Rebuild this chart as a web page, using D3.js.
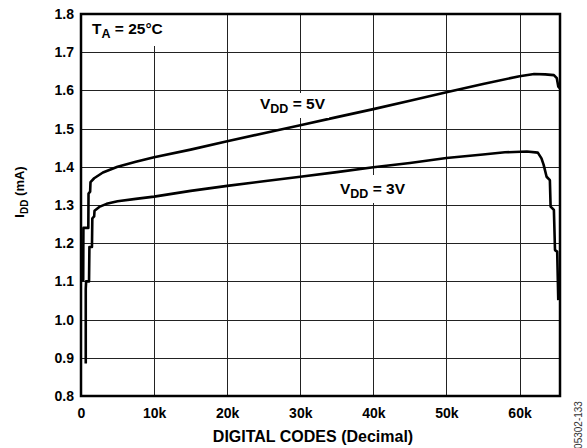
<!DOCTYPE html>
<html lang="en">
<head>
  <meta charset="UTF-8">
  <title>IDD vs Digital Codes</title>
  <script src="https://d3js.org/d3.v7.min.js"></script>
  <style>
    body { margin: 0; padding: 0; background: #fff; }
    svg { display: block; }
    text { font-family: 'Liberation Sans', Arial, sans-serif; fill: #000; }
    .tick text { font-size: 14px; font-weight: bold; }
    .grid line { stroke: #222; stroke-width: 1; shape-rendering: crispEdges; }
    .curve { fill: none; stroke: #000; stroke-width: 2.6; stroke-linejoin: round; }
  </style>
</head>
<body>
<svg id="chart" width="587" height="448"></svg>
<script>
  // axis ticks
  var xTicks = [0, 10000, 20000, 30000, 40000, 50000, 60000];
  var xTickLabels = ['0', '10k', '20k', '30k', '40k', '50k', '60k'];
  var yTicks = [0.8, 0.9, 1.0, 1.1, 1.2, 1.3, 1.4, 1.5, 1.6, 1.7, 1.8];

  // VDD = 5V  (code, mA)
  var codes5V = [300, 330, 1000, 1030, 1250, 1300, 1800, 3000, 5000, 7500, 10000, 15000, 20000,
    25000, 30000, 35000, 40000, 45000, 50000, 55000, 60000, 62000, 63500, 64700, 65100, 65300, 65535];
  var idd5V = [1.10, 1.24, 1.24, 1.33, 1.335, 1.36, 1.37, 1.385, 1.40, 1.413, 1.425, 1.445, 1.467,
    1.488, 1.509, 1.530, 1.551, 1.573, 1.595, 1.617, 1.637, 1.643, 1.642, 1.640, 1.632, 1.610, 1.605];

  // VDD = 3V  (code, mA)
  var codes3V = [650, 650, 700, 1100, 1150, 1500, 1550, 1800, 1850, 2500, 3500, 5000, 7500, 10000,
    15000, 20000, 25000, 30000, 35000, 40000, 45000, 50000, 55000, 58000, 61000, 62500, 63000,
    63300, 63700, 64150, 64250, 64700, 64850, 65150, 65300];
  var idd3V = [0.885, 1.08, 1.10, 1.10, 1.19, 1.19, 1.265, 1.27, 1.285, 1.295, 1.303, 1.31, 1.316, 1.322,
    1.337, 1.35, 1.362, 1.374, 1.386, 1.399, 1.41, 1.423, 1.432, 1.438, 1.44, 1.437, 1.422,
    1.405, 1.374, 1.365, 1.296, 1.287, 1.182, 1.178, 1.051];

  var margin = {top: 14, right: 27, bottom: 52, left: 81};
  var width = 587 - margin.left - margin.right;
  var height = 448 - margin.top - margin.bottom;

  var svg = d3.select('#chart');
  var g = svg.append('g')
    .attr('transform', 'translate(' + [margin.left, margin.top] + ')');

  var x = d3.scaleLinear().domain([0, 65535]).range([0, width]);
  var y = d3.scaleLinear().domain([0.8, 1.8]).range([height, 0]);

  // grid + tick labels
  var yAxis = d3.axisLeft(y)
    .tickValues(yTicks)
    .tickFormat(d3.format('.1f'))
    .tickSize(-width)
    .tickPadding(7);
  g.append('g').attr('class', 'grid').call(yAxis)
    .call(function(a) { a.select('.domain').remove(); });

  var xAxis = d3.axisBottom(x)
    .tickValues(xTicks)
    .tickFormat(function(d, i) { return xTickLabels[i]; })
    .tickSize(-height)
    .tickPadding(12);
  g.append('g').attr('class', 'grid')
    .attr('transform', 'translate(0,' + height + ')')
    .call(xAxis)
    .call(function(a) { a.select('.domain').remove(); });

  var line = d3.line()
    .x(function(d) { return x(d[0]); })
    .y(function(d) { return y(d[1]); });

  g.append('path').attr('class', 'curve')
    .attr('d', line(d3.zip(codes5V, idd5V)));
  g.append('path').attr('class', 'curve')
    .attr('d', line(d3.zip(codes3V, idd3V)));

  // white boxes behind the in-plot labels
  function label(bx, by, bw, bh, tx, ty, main, sub, rest, size) {
    g.append('rect')
      .attr('x', bx).attr('y', by).attr('width', bw).attr('height', bh)
      .attr('fill', '#fff');
    var t = g.append('text')
      .attr('x', tx).attr('y', ty)
      .style('font-size', size + 'px').style('font-weight', 'bold');
    t.append('tspan').text(main);
    t.append('tspan').attr('dy', 4).style('font-size', (size - 3) + 'px').text(sub);
    t.append('tspan').attr('dy', -4).text(rest);
  }
  label(1, 1, 92, 31, 11, 20, 'T', 'A', ' = 25°C', 15.5);
  label(176, 79, 72, 25, 179, 95, 'V', 'DD', ' = 5V', 15.5);
  label(255, 161, 78, 28, 259, 180, 'V', 'DD', ' = 3V', 15.5);

  // frame
  g.append('rect')
    .attr('width', width).attr('height', height)
    .attr('fill', 'none').attr('stroke', '#000').attr('stroke-width', 2.5);

  // axis titles
  svg.append('text')
    .attr('x', 313).attr('y', 442)
    .attr('text-anchor', 'middle')
    .style('font-size', '16px').style('font-weight', 'bold')
    .text('DIGITAL CODES (Decimal)');

  var yt = svg.append('text')
    .attr('transform', 'translate(24,192)rotate(-90)')
    .attr('text-anchor', 'middle')
    .style('font-size', '13px').style('font-weight', 'bold');
  yt.append('tspan').text('I');
  yt.append('tspan').attr('dy', 4).style('font-size', '10px').text('DD');
  yt.append('tspan').attr('dy', -4).text(' (mA)');

  svg.append('text')
    .attr('transform', 'translate(582,425)rotate(-90)')
    .attr('text-anchor', 'middle')
    .style('font-size', '10px')
    .style('fill', '#333')
    .text('05302-133');
</script>
</body>
</html>
